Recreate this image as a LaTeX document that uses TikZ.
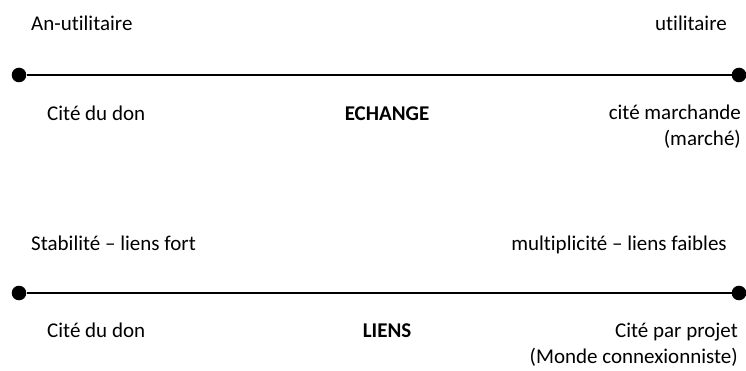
\documentclass[tikz,border=0pt]{standalone}
\usepackage{fontspec}
\setmainfont{Carlito}[Ligatures={NoCommon}]
\usepackage{tikz}
\usetikzlibrary{positioning}

\begin{document}
\begin{tikzpicture}[
    x=1pt, y=-1pt,
    lbl/.style={inner sep=0pt, font=\fontsize{21}{26}\selectfont},
    pole/.style={circle, fill=black, inner sep=0pt, minimum size=14.6pt},
    axis/.style={line width=2pt}
]
\useasboundingbox (0,0) rectangle (746,371);

% Echange axis
\node[pole] (pole1l) at (19,75) {};
\node[pole] (pole1r) at (739,75) {};
\draw[axis] (pole1l) -- (pole1r);

\node[lbl, anchor=base west] (top1l) at (31,31) {An-utilitaire};
\node[lbl, anchor=base east] (top1r) at (727,31) {utilitaire};

\node[lbl, anchor=base west] (bot1l) at (47,121) {Cité du don};
\node[lbl, anchor=base] (name1) at (387,121) {\textbf{ECHANGE}};
\node[lbl, anchor=base east, align=right] (bot1r) at (741,146)
{cité marchande\\
(marché)};

% Liens axis
\node[pole] (pole2l) at (19,293) {};
\node[pole] (pole2r) at (739,293) {};
\draw[axis] (pole2l) -- (pole2r);

\node[lbl, anchor=base west] (top2l) at (31,251) {Stabilité – liens fort};
\node[lbl, anchor=base east] (top2r) at (727,251) {multiplicité – liens faibles};

\node[lbl, anchor=base west] (bot2l) at (47,337) {Cité du don};
\node[lbl, anchor=base] (name2) at (387,337) {\textbf{LIENS}};
\node[lbl, anchor=base east, align=right] (bot2r) at (738,363)
{Cité par projet\\
(Monde connexionniste)};

\end{tikzpicture}
\end{document}
